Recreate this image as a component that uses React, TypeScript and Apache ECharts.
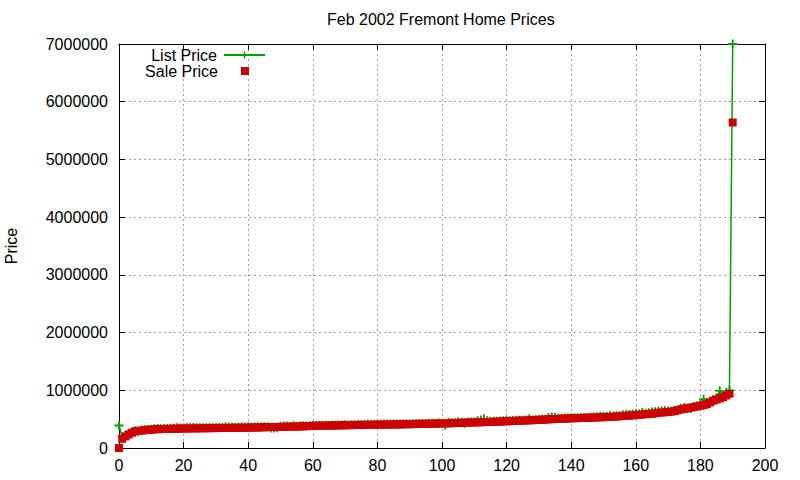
import React, { useEffect, useRef } from 'react'
import * as echarts from 'echarts'

// 판매가 (오름차순 정렬, index = 매물 순번)
const salePrices = [
  0, 160000, 200000, 235000, 265000, 290000, 298000, 302000, 308000, 315000,
  318000, 322000, 326000, 328000, 330000, 331000, 332000, 334000, 335000, 336000,
  337000, 338000, 339000, 340000, 341000, 342000, 342000, 343000, 344000, 345000,
  345000, 346000, 347000, 348000, 348000, 349000, 350000, 350000, 351000, 352000,
  353000, 354000, 355000, 356000, 358000, 360000, 362000, 363000, 364000, 365000,
  366000, 367000, 368000, 369000, 370000, 372000, 374000, 376000, 378000, 381000,
  383000, 385000, 386000, 387000, 388000, 389000, 390000, 391000, 392000, 393000,
  395000, 396000, 397000, 398000, 399000, 400000, 400000, 401000, 402000, 403000,
  404000, 405000, 405000, 406000, 407000, 408000, 409000, 410000, 411000, 412000,
  413000, 415000, 417000, 418000, 419000, 420000, 421000, 422000, 423000, 424000,
  425000, 426000, 428000, 430000, 432000, 435000, 437000, 439000, 441000, 442000,
  443000, 444000, 446000, 448000, 450000, 452000, 454000, 456000, 458000, 460000,
  462000, 465000, 468000, 471000, 473000, 475000, 477000, 479000, 482000, 485000,
  488000, 490000, 493000, 496000, 499000, 502000, 505000, 508000, 510000, 512000,
  514000, 516000, 518000, 520000, 522000, 524000, 526000, 528000, 530000, 532000,
  534000, 536000, 538000, 541000, 545000, 550000, 555000, 558000, 561000, 565000,
  570000, 575000, 580000, 585000, 590000, 595000, 600000, 610000, 615000, 620000,
  625000, 630000, 640000, 655000, 670000, 680000, 690000, 700000, 710000, 720000,
  730000, 745000, 760000, 790000, 820000, 840000, 860000, 880000, 910000, 940000,
  5640000,
]

// 호가 (같은 순번)
const listPrices = [
  390000, 190000, 215000, 245000, 272000, 300000, 285000, 310000, 318000, 322000,
  325000, 335000, 340000, 333000, 336000, 338000, 340000, 342000, 350000, 345000,
  348000, 352000, 350000, 355000, 350000, 352000, 349000, 351000, 353000, 352000,
  353000, 355000, 354000, 370000, 358000, 360000, 357000, 359000, 362000, 358000,
  362000, 360000, 364000, 362000, 366000, 368000, 365000, 345000, 348000, 350000,
  378000, 380000, 382000, 379000, 384000, 378000, 380000, 385000, 383000, 386000,
  390000, 388000, 394000, 392000, 395000, 392000, 396000, 395000, 398000, 400000,
  402000, 400000, 405000, 403000, 406000, 404000, 408000, 418000, 408000, 410000,
  412000, 410000, 414000, 416000, 418000, 416000, 415000, 414000, 418000, 420000,
  418000, 420000, 422000, 424000, 426000, 425000, 428000, 427000, 430000, 432000,
  430000, 395000, 445000, 438000, 436000, 450000, 442000, 430000, 448000, 450000,
  452000, 470000, 485000, 505000, 470000, 462000, 463000, 464000, 466000, 470000,
  475000, 472000, 478000, 480000, 482000, 481000, 484000, 505000, 488000, 490000,
  495000, 498000, 500000, 530000, 535000, 528000, 512000, 515000, 520000, 518000,
  522000, 525000, 526000, 528000, 530000, 529000, 533000, 535000, 538000, 545000,
  550000, 548000, 560000, 555000, 558000, 560000, 575000, 580000, 585000, 590000,
  595000, 590000, 615000, 600000, 610000, 625000, 630000, 635000, 640000, 645000,
  640000, 638000, 650000, 662000, 690000, 700000, 680000, 690000, 715000, 730000,
  760000, 845000, 790000, 800000, 840000, 870000, 990000, 900000, 960000, 1000000,
  7000000,
]

const titleText = 'Feb 2002 Fremont Home Prices'
const yAxisName = 'Price'
const xRange = { min: 0, max: 200, interval: 20 }
const yRange = { min: 0, max: 7000000, interval: 1000000 }

const FONT = 'Liberation Sans, Arial, sans-serif'
const GREEN = '#00a000'
const RED = '#cc0000'
const PLUS = 'path://M4,0H6V4H10V6H6V10H4V6H0V4H4Z'

export default function App() {
  const chartRef = useRef<HTMLDivElement>(null)

  useEffect(() => {
    if (!chartRef.current) return
    const chart = echarts.init(chartRef.current, null, { renderer: 'svg' })

    const frameLine = { show: true, onZero: false, lineStyle: { color: '#000', width: 1 } }
    const tick = { show: true, inside: true, length: 6, lineStyle: { color: '#000' } }
    const grid = { show: true, lineStyle: { color: '#a0a0a0', type: [2, 3] as any, width: 1 } }
    const label = { color: '#000', fontSize: 16, fontFamily: FONT }

    const option = {
      animation: false,
      backgroundColor: '#fff',
      textStyle: { fontFamily: FONT },
      title: {
        text: titleText,
        left: 327,
        top: 11,
        padding: 0,
        textStyle: { color: '#000', fontSize: 16, fontWeight: 'normal', fontFamily: FONT },
      },
      legend: [
        {
          data: ['List Price'],
          right: 534,
          top: 47,
          padding: 0,
          align: 'right',
          itemWidth: 41,
          itemHeight: 9,
          selectedMode: false,
          textStyle: { color: '#000', fontSize: 16, fontFamily: FONT, padding: [0, 2, 0, 0] },
        },
        {
          data: ['Sale Price'],
          right: 551,
          top: 63,
          padding: 0,
          align: 'right',
          itemWidth: 8,
          itemHeight: 8,
          selectedMode: false,
          itemStyle: { opacity: 1 },
          textStyle: { color: '#000', fontSize: 16, fontFamily: FONT, padding: [0, 18, 0, 0] },
        },
      ],
      grid: {
        left: 119, right: 35, top: 44, bottom: 32,
        containLabel: false,
        outerBoundsMode: 'none',
      },
      xAxis: [
        {
          type: 'value', position: 'bottom', ...xRange,
          axisLine: frameLine, axisTick: tick, splitLine: grid,
          axisLabel: { ...label, margin: 9 },
        },
        {
          type: 'value', position: 'top', ...xRange,
          axisLine: frameLine, axisTick: tick, splitLine: { show: false },
          axisLabel: { show: false },
        },
      ],
      yAxis: [
        {
          type: 'value', position: 'left', ...yRange,
          name: yAxisName, nameLocation: 'middle', nameGap: 100, nameRotate: 90,
          nameTextStyle: { ...label },
          axisLine: frameLine, axisTick: tick, splitLine: grid,
          axisLabel: {
            ...label,
            margin: 11,
            formatter: (v: number) => String(v),
          },
        },
        {
          type: 'value', position: 'right', ...yRange,
          axisLine: frameLine, axisTick: tick, splitLine: { show: false },
          axisLabel: { show: false },
        },
      ],
      series: [
        {
          name: 'List Price',
          type: 'line',
          z: 2,
          data: listPrices.map((v, i) => [i, v]),
          symbol: PLUS,
          symbolSize: 9,
          showSymbol: true,
          showAllSymbol: true,
          lineStyle: { color: GREEN, width: 1.5 },
          itemStyle: { color: GREEN },
          silent: true,
        },
        {
          name: 'Sale Price',
          type: 'scatter',
          z: 5,
          data: salePrices.map((v, i) => [i, v]),
          symbol: 'rect',
          symbolSize: 8,
          itemStyle: { color: RED, opacity: 1 },
          silent: true,
        },
      ],
    }

    chart.setOption(option as any)
    return () => {
      chart.dispose()
    }
  }, [])

  return (
    <div
      ref={chartRef}
      style={{ position: 'fixed', left: 0, top: 0, width: 800, height: 480, background: '#fff' }}
    />
  )
}
